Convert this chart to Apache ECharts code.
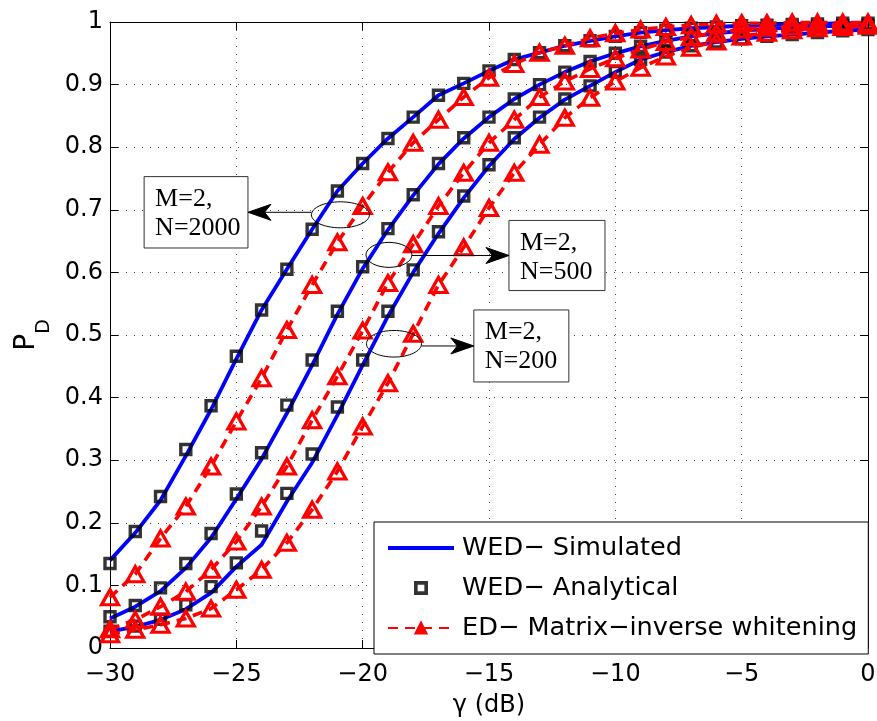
<!DOCTYPE html>
<html>
<head>
<meta charset="utf-8">
<script src="https://cdn.jsdelivr.net/npm/echarts@6/dist/echarts.min.js"></script>
<style>
html,body{margin:0;padding:0;background:#fff;}
#chart{width:877px;height:721px;}
</style>
</head>
<body>
<div id="chart"></div>
<script>
// ---- data ----
const gamma = [-30,-29,-28,-27,-26,-25,-24,-23,-22,-21,-20,-19,-18,-17,-16,-15,-14,-13,-12,-11,-10,-9,-8,-7,-6,-5,-4,-3,-2,-1,0];

// WED simulated (solid blue)
const simN2000 = [0.140,0.184,0.236,0.307,0.381,0.462,0.540,0.605,0.669,0.730,0.774,0.814,0.848,0.883,0.902,0.922,0.940,0.951,0.962,0.970,0.977,0.983,0.987,0.990,0.992,0.994,0.995,0.996,0.997,0.998,0.998];
const simN500  = [0.047,0.066,0.091,0.128,0.176,0.238,0.302,0.375,0.452,0.533,0.606,0.668,0.723,0.773,0.814,0.848,0.877,0.900,0.920,0.937,0.950,0.961,0.970,0.977,0.982,0.986,0.989,0.991,0.993,0.994,0.995];
const simN200  = [0.026,0.034,0.045,0.062,0.088,0.130,0.165,0.234,0.296,0.372,0.452,0.530,0.600,0.662,0.719,0.770,0.813,0.847,0.876,0.898,0.920,0.940,0.952,0.962,0.968,0.973,0.977,0.980,0.983,0.986,0.988];

// WED analytical (black squares)
const anaN2000 = [0.135,0.186,0.242,0.317,0.387,0.466,0.540,0.605,0.669,0.730,0.774,0.814,0.848,0.883,0.902,0.922,0.940,0.951,0.962,0.970,0.977,0.983,0.987,0.990,0.992,0.994,0.995,0.996,0.997,0.998,0.998];
const anaN500  = [0.050,0.068,0.096,0.135,0.183,0.246,0.312,0.388,0.460,0.538,0.609,0.670,0.724,0.774,0.815,0.848,0.877,0.900,0.920,0.937,0.950,0.961,0.970,0.977,0.982,0.986,0.989,0.991,0.993,0.994,0.995];
const anaN200  = [0.027,0.035,0.046,0.069,0.098,0.136,0.187,0.247,0.310,0.385,0.460,0.538,0.604,0.665,0.722,0.772,0.815,0.848,0.877,0.898,0.921,0.940,0.952,0.962,0.968,0.973,0.977,0.980,0.983,0.986,0.988];

// ED matrix-inverse whitening (red dashed, triangles)
const edN2000 = [0.081,0.118,0.175,0.226,0.290,0.362,0.431,0.508,0.580,0.648,0.706,0.760,0.807,0.844,0.880,0.911,0.933,0.951,0.962,0.974,0.982,0.988,0.992,0.995,0.997,0.998,0.998,0.999,0.999,0.999,0.999];
const edN500  = [0.030,0.045,0.066,0.090,0.125,0.170,0.226,0.290,0.364,0.434,0.507,0.583,0.645,0.706,0.759,0.807,0.844,0.880,0.905,0.925,0.942,0.956,0.968,0.976,0.983,0.988,0.991,0.993,0.995,0.996,0.997];
const edN200  = [0.022,0.029,0.037,0.047,0.063,0.093,0.125,0.168,0.221,0.282,0.354,0.423,0.502,0.580,0.640,0.703,0.759,0.804,0.847,0.879,0.905,0.927,0.945,0.959,0.969,0.977,0.983,0.987,0.990,0.992,0.994];

const xTicks = [-30,-25,-20,-15,-10,-5,0];
const yTicks = [0,0.1,0.2,0.3,0.4,0.5,0.6,0.7,0.8,0.9,1];

const nameSim = 'WED\u2212 Simulated';
const nameAna = 'WED\u2212 Analytical';
const nameEd  = 'ED\u2212 Matrix\u2212inverse whitening';

// annotation labels and anchor points (data units)
const annoLabels = ['M=2,\nN=2000', 'M=2,\nN=500', 'M=2,\nN=200'];
const annoEllipse = [[-20.88,0.692],[-18.96,0.628],[-18.76,0.486]];
const annoBox = [[-28.65,0.753,-24.54,0.639],[-14.21,0.683,-10.41,0.571],[-15.60,0.540,-11.84,0.425]];

// ---- styling ----
const FONT = 'DejaVu Sans';
const ellR = [[29,13],[23,12.5],[27.5,13.3]];

const pairs = ys => gamma.map((g,i)=>[g, ys[i]]);

const chart = echarts.init(document.getElementById('chart'), null, {renderer:'canvas'});

const simSeries = [simN2000, simN500, simN200].map(d => ({
  name: nameSim, type:'line', data: pairs(d), symbol:'none', showSymbol:false,
  lineStyle:{color:'#0000ff', width:3.8}, itemStyle:{color:'#0000ff'}, z:2, clip:false, silent:true
}));
const anaSeries = [anaN2000, anaN500, anaN200].map(d => ({
  name: nameAna, type:'scatter', data: pairs(d), symbol:'rect', symbolSize:10,
  itemStyle:{color:'rgba(0,0,0,0)', borderColor:'#000', borderWidth:3.4}, z:3, clip:false, silent:true
}));
const edSeries = [edN2000, edN500, edN200].map(d => ({
  name: nameEd, type:'line', data: pairs(d), symbol:'triangle', symbolSize:[17,15], showSymbol:true, showAllSymbol:true,
  lineStyle:{color:'#ff0000', width:3.6, type:[10,7]},
  itemStyle:{color:'rgba(0,0,0,0)', borderColor:'#ff0000', borderWidth:3.2}, z:4, clip:false, silent:true
}));

const axisLabelFmt = v => String(+v.toFixed(2)).replace('-', '\u2212');
const gridLine = {show:true, lineStyle:{color:'#444', width:1, type:[1,7]}};

chart.setOption({
  animation:false,
  backgroundColor:'#fff',
  grid:{left:110, top:22, width:758, height:626, show:false, containLabel:false, outerBoundsMode:'none'},
  xAxis:[{
    type:'value', min:-30, max:0, interval:5, position:'bottom',
    axisLine:{show:true, onZero:false, lineStyle:{color:'#000', width:1}},
    axisTick:{show:true, inside:true, length:8, lineStyle:{color:'#000'}},
    axisLabel:{formatter:axisLabelFmt, fontFamily:FONT, fontSize:24, color:'#000', margin:15},
    splitLine:gridLine,
    name:'\u03b3 (dB)', nameLocation:'middle', nameGap:46,
    nameTextStyle:{fontFamily:FONT, fontSize:24, color:'#000'}
  },{
    type:'value', min:-30, max:0, interval:5, position:'top',
    axisLine:{show:true, onZero:false, lineStyle:{color:'#000', width:1}},
    axisTick:{show:true, inside:true, length:8, lineStyle:{color:'#000'}},
    axisLabel:{show:false}, splitLine:{show:false}
  }],
  yAxis:[{
    type:'value', min:0, max:1, interval:0.1, position:'left',
    axisLine:{show:true, onZero:false, lineStyle:{color:'#000', width:1}},
    axisTick:{show:true, inside:true, length:8, lineStyle:{color:'#000'}},
    axisLabel:{formatter:axisLabelFmt, fontFamily:FONT, fontSize:24, color:'#000', margin:7},
    splitLine:gridLine,
    name:'{p|P}{d|D}', nameLocation:'middle', nameRotate:90, nameGap:62,
    nameTextStyle:{
      fontFamily:FONT, color:'#000',
      rich:{
        p:{fontFamily:FONT, fontSize:28, lineHeight:28, verticalAlign:'top', color:'#000'},
        d:{fontFamily:FONT, fontSize:19, lineHeight:19, verticalAlign:'top', padding:[22,0,0,0], color:'#000'}
      }
    }
  },{
    type:'value', min:0, max:1, interval:0.1, position:'right',
    axisLine:{show:true, onZero:false, lineStyle:{color:'#000', width:1}},
    axisTick:{show:true, inside:true, length:8, lineStyle:{color:'#000'}},
    axisLabel:{show:false}, splitLine:{show:false}
  }],
  legend:{
    orient:'vertical', left:374, top:522,
    data:[
      {name:nameSim, icon:'path://M0,0H66V4H0Z', itemStyle:{color:'#0000ff', borderWidth:0}},
      {name:nameAna, icon:'path://M0,0H13V13H0Z M3.4,3.4V9.6H9.6V3.4Z', itemStyle:{color:'#000', borderWidth:0}},
      {name:nameEd, itemStyle:{color:'#ff0000', borderColor:'#ff0000'}}
    ],
    itemWidth:66, itemHeight:14, itemGap:10,
    padding:[11,11,11,13],
    backgroundColor:'#fff', borderColor:'#000', borderWidth:1,
    selectedMode:false,
    textStyle:{fontFamily:FONT, fontSize:25.6, color:'#000', lineHeight:30, padding:[0,0,0,3]}
  },
  series:[...simSeries, ...anaSeries, ...edSeries]
});

// annotations placed from data coordinates
function px(p){ return chart.convertToPixel({xAxisIndex:0, yAxisIndex:0}, p); }
const graphics = [];
annoLabels.forEach((lab, i) => {
  const c = px(annoEllipse[i]);
  const b1 = px([annoBox[i][0], annoBox[i][1]]);
  const b2 = px([annoBox[i][2], annoBox[i][3]]);
  const bx = b1[0], by = b1[1], bw = b2[0]-b1[0], bh = b2[1]-b1[1];
  const ay = by + bh/2;
  const rx = ellR[i][0], ry = ellR[i][1];
  graphics.push({type:'rect', z:50, shape:{x:bx, y:by, width:bw, height:bh},
    style:{fill:'#fff', stroke:'#333', lineWidth:1}});
  graphics.push({type:'text', z:51, x:bx+11, y:by+8,
    style:{text:lab, fontFamily:'Liberation Serif', fontSize:26, lineHeight:29, fill:'#000'}});
  graphics.push({type:'ellipse', z:50, shape:{cx:c[0], cy:c[1], rx:rx, ry:ry},
    style:{fill:null, stroke:'#000', lineWidth:1}});
  let x0, tip, dir;
  if (bx + bw < c[0]) { x0 = c[0]-rx; tip = bx+bw; dir = 1; }
  else { x0 = c[0]+rx; tip = bx; dir = -1; }
  graphics.push({type:'line', z:50, shape:{x1:x0, y1:ay, x2:tip+dir*16, y2:ay},
    style:{stroke:'#000', lineWidth:1}});
  const L = 23, W = 8;
  graphics.push({type:'polygon', z:51, shape:{points:[
    [tip, ay], [tip+dir*L, ay-W], [tip+dir*L*0.72, ay], [tip+dir*L, ay+W]
  ]}, style:{fill:'#000', stroke:'#000', lineWidth:1}});
});
chart.setOption({graphic: graphics});
</script>
</body>
</html>
